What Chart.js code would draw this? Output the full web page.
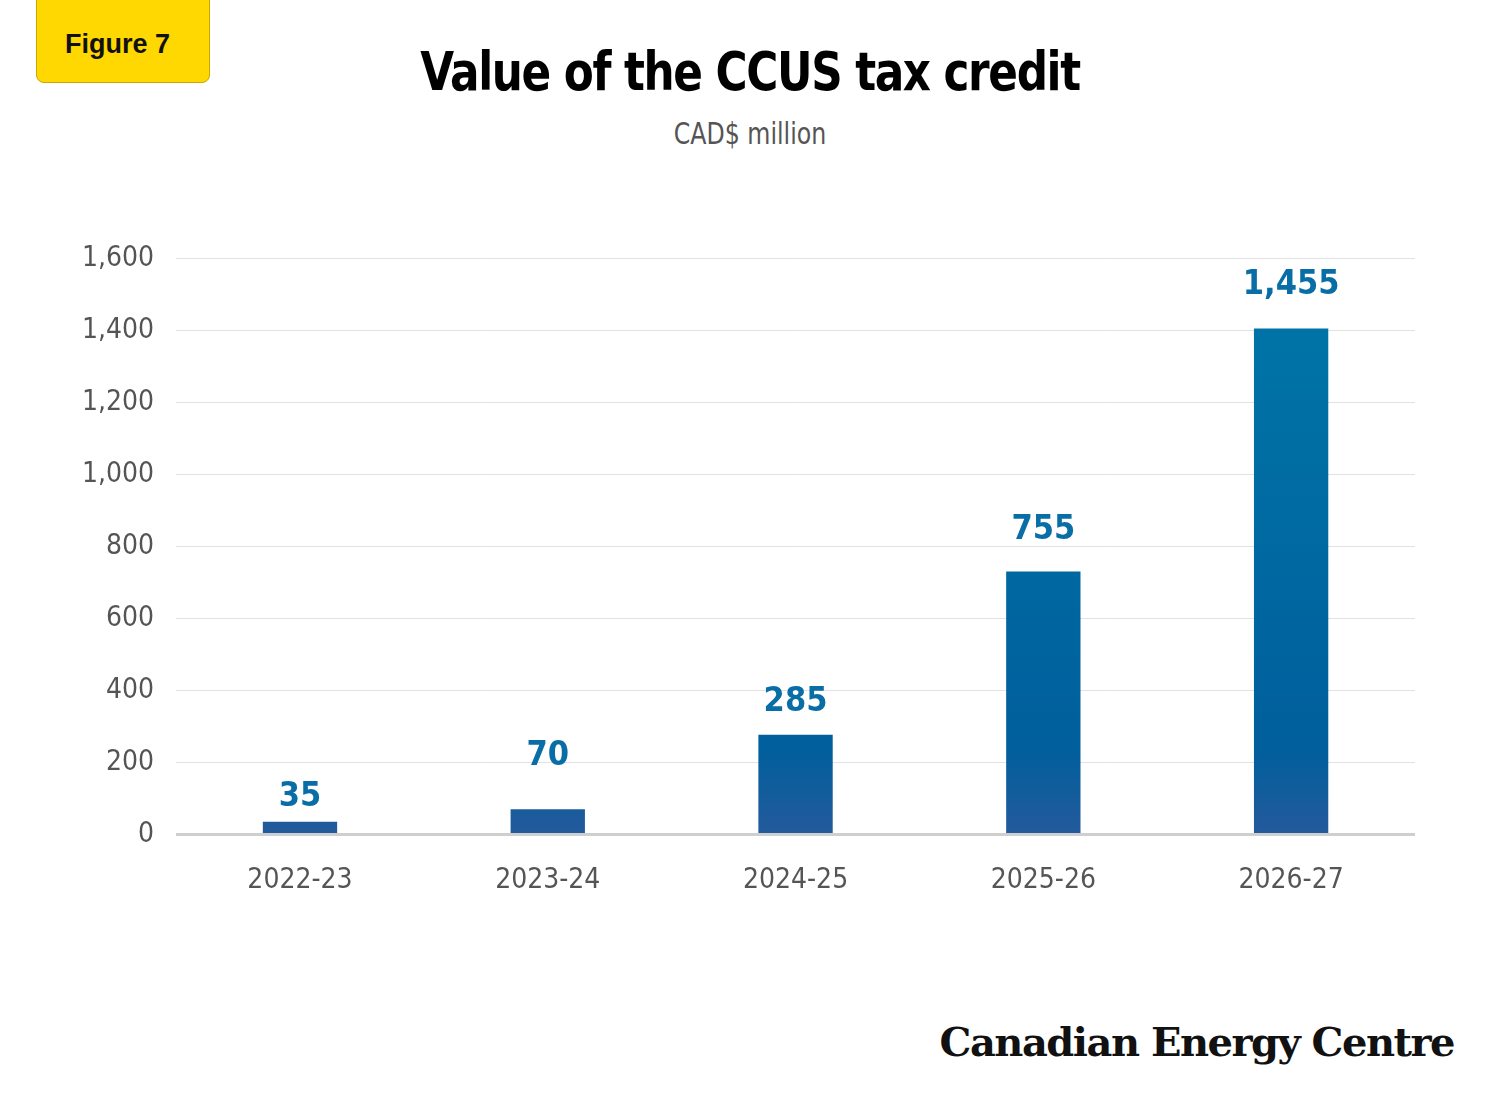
<!DOCTYPE html>
<html><head><meta charset="utf-8">
<script src="https://cdn.jsdelivr.net/npm/chart.js@4"></script>
<style>
body{margin:0;width:1500px;height:1100px;background:#fff;position:relative;font-family:"DejaVu Sans Condensed",sans-serif;overflow:hidden}
#badge{position:absolute;left:36px;top:-10px;width:174px;height:93px;background:#fed800;border:1px solid #c9a800;border-radius:8px;box-sizing:border-box}
#badge span{position:absolute;left:28px;top:38px;font:bold 27px "Liberation Sans",Arial,sans-serif;color:#111}
#title{position:absolute;left:0;width:1500px;top:40px;text-align:center;font-weight:bold;font-size:54px;color:#000;letter-spacing:-1.5px;transform:scaleX(0.9)}
#sub{position:absolute;left:0;width:1500px;top:115px;text-align:center;font-size:31px;color:#555;transform:scaleX(0.85)}
#logo{position:absolute;right:46px;top:1018px;font:bold 40px "DejaVu Serif",serif;color:#111;letter-spacing:-1.5px}
#wrap{position:absolute;left:60px;top:220px;width:1370px;height:700px}
</style></head><body>
<div id="badge"><span>Figure 7</span></div>
<div id="title">Value of the CCUS tax credit</div>
<div id="sub">CAD$ million</div>
<div id="wrap"><canvas id="c" width="1370" height="700"></canvas></div>
<div id="logo">Canadian Energy Centre</div>
<script>
const categories=["2022-23","2023-24","2024-25","2025-26","2026-27"];
const barHeights=[35,70,277,731,1406];
const valueLabels=["35","70","285","755","1,455"];
const yTicks=[0,200,400,600,800,1000,1200,1400,1600];
const F='"DejaVu Sans Condensed",sans-serif';
const ctx=document.getElementById('c');
const lbl={id:'lbl',afterDatasetsDraw(ch){const c=ch.ctx;const m=ch.getDatasetMeta(0);c.save();c.fillStyle='#0a6ea6';c.font='bold 34px '+F;c.textAlign='center';c.textBaseline='bottom';
m.data.forEach((b,i)=>{const off=[8,36,16,24,26][i];c.fillText(valueLabels[i],b.x,b.y-off);});c.restore();}};
new Chart(ctx,{type:'bar',data:{labels:categories,datasets:[{data:barHeights,
backgroundColor(c){const a=c.chart.chartArea;if(!a)return '#0066a0';const g=c.chart.ctx.createLinearGradient(0,a.top,0,a.bottom);g.addColorStop(0,'#0077a8');g.addColorStop(0.85,'#005f9c');g.addColorStop(1,'#245a9c');return g;},
barPercentage:0.3,categoryPercentage:1}]},
options:{responsive:false,animation:false,layout:{padding:{right:15,top:10}},plugins:{legend:{display:false},tooltip:{enabled:false}},
scales:{y:{min:0,max:1600,afterBuildTicks(s){s.ticks=yTicks.map(v=>({value:v}));},
ticks:{color:'#555',font:{size:28,family:F},padding:22,callback:v=>v.toLocaleString('en-US')},
grid:{color(c){return c.tick.value===0?'#cfcfcf':'#e2e2e2';},lineWidth(c){return c.tick.value===0?3:1;},drawTicks:false},border:{display:false}},
x:{ticks:{color:'#555',font:{size:28,family:F},padding:22},grid:{display:false},border:{display:false}}}},
plugins:[lbl]});
</script></body></html>
